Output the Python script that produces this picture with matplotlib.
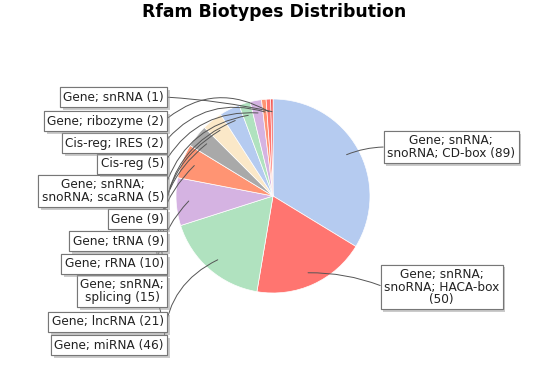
import numpy as np
import matplotlib
matplotlib.use("Agg")
import matplotlib.pyplot as plt
import matplotlib.patheffects as pe

# slices, clockwise from 12 o'clock
labels = [
    "Gene; snRNA;\nsnoRNA; CD-box (89)",
    "Gene; snRNA;\nsnoRNA; HACA-box\n(50)",
    "Gene; miRNA (46)",
    "Gene; lncRNA (21)",
    "Gene; snRNA;\nsplicing (15)",
    "Gene; rRNA (10)",
    "Gene; tRNA (9)",
    "Gene (9)",
    "Gene; snRNA;\nsnoRNA; scaRNA (5)",
    "Cis-reg (5)",
    "Cis-reg; IRES (2)",
    "Gene; ribozyme (2)",
    "Gene; snRNA (1)",
]
counts = [89, 50, 46, 21, 15, 10, 9, 9, 5, 5, 2, 2, 1]
colors = ["#b5cbf0", "#ff7570", "#b0e2bf", "#d5b3e2", "#ff9473", "#a9a9a9",
          "#fbe8c8", "#b5cbf0", "#b0e2bf", "#d5b3e2", "#ff9473", "#ff7570",
          "#f04a46"]

# label box positions (pixels from top-left) and connector bend, layout only
box_x = [387, 384, 164, 164, 164, 164, 164, 164, 164, 164, 164, 164, 164]
box_y = [147, 287, 345, 322, 291, 264, 241, 219, 191, 164, 143, 121, 97]
bend = [0.1, 0.1, -0.31, -0.31, -0.31, -0.31, -0.31, -0.31, -0.31, -0.31,
        -0.33, -0.35, -0.04]

W, H = 549, 377
fig = plt.figure(figsize=(W / 100, H / 100), dpi=100)
ax = fig.add_axes([0, 0, 1, 1])

cx, cy, r = 273, H - 196, 97
wedges, _ = ax.pie(counts, colors=colors, center=(cx, cy), radius=r,
                   startangle=90, counterclock=False,
                   wedgeprops=dict(edgecolor="white", linewidth=0.5))
ax.set_xlim(0, W)
ax.set_ylim(0, H)
ax.set_aspect("equal")
ax.axis("off")

total = sum(counts)
cum = 0
for i, (lab, c) in enumerate(zip(labels, counts)):
    mid = (cum + c / 2) / total * 2 * np.pi
    cum += c
    ax_x = cx + 0.87 * r * np.sin(mid)
    ax_y = cy + 0.87 * r * np.cos(mid)
    left = box_x[i] < cx
    ann = ax.annotate(
        lab, xy=(ax_x, ax_y), xytext=(box_x[i], H - box_y[i]),
        ha="right" if left else "left", va="center", multialignment="center",
        fontsize=8.7, color="#222222", linespacing=0.95,
        bbox=dict(boxstyle="square,pad=0.28", fc="white", ec="#777777", lw=0.8),
        arrowprops=dict(arrowstyle="-", color="#555555", lw=0.7,
                        shrinkA=0, shrinkB=0,
                        relpos=(1, 0.5) if left else (0, 0.5),
                        connectionstyle=f"arc3,rad={bend[i]}"),
    )
    ann.get_bbox_patch().set_path_effects(
        [pe.withSimplePatchShadow(offset=(2, -2), shadow_rgbFace="#999999", alpha=0.5),
         pe.Normal()])

fig.text(0.5, 1 - 12 / H, "Rfam Biotypes Distribution", ha="center", va="center",
         fontsize=12.4, fontweight="bold")

fig.savefig("out.png", dpi=100)
